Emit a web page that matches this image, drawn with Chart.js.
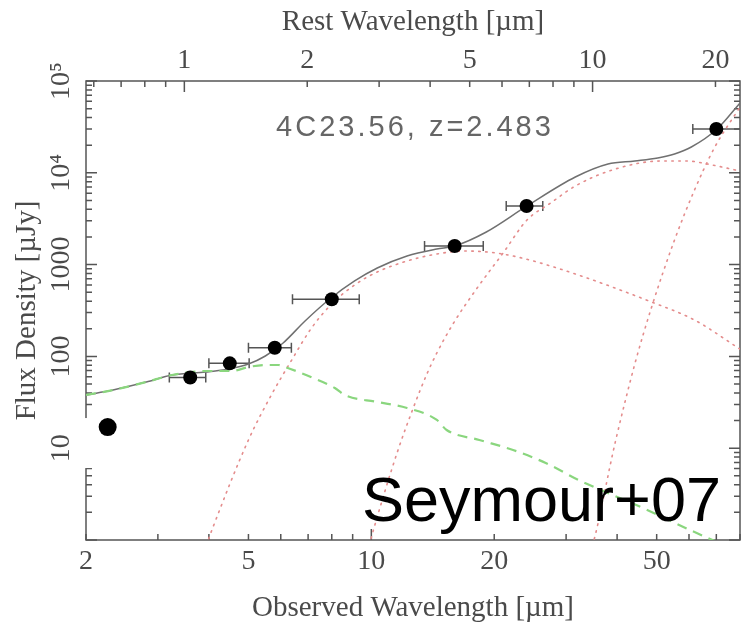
<!DOCTYPE html>
<html>
<head>
<meta charset="utf-8">
<script src="https://cdn.jsdelivr.net/npm/chart.js@4.4.0/dist/chart.umd.min.js"></script>
<style>
  html, body { margin: 0; padding: 0; background: #fff; }
  #sed { display: block; }
</style>
</head>
<body>
<canvas id="sed" width="749" height="627"></canvas>
<script>
const redshift = 2.483;

// photometry: observed wavelength [um], flux [uJy], wavelength range of the band
const photWl   = [3.6, 4.5, 5.8, 8.0, 16, 24, 70];
const photFlux = [59, 84, 124, 419, 1595, 4350, 30000];
const photWlLo = [3.2, 4.0, 5.0, 6.41, 13.5, 21.4, 61.3];
const photWlHi = [3.93, 5.02, 6.37, 9.34, 18.8, 26.3, 90];

// the extra K-band point
const extraWl   = [2.26];
const extraFlux = [17.0];

// total model (solid)
const totalWl   = [2.00, 2.33, 2.81, 3.25, 3.93, 4.47, 5.00, 5.50, 6.08, 6.88, 7.91, 9.10, 10.34, 12.23, 14.47, 15.99, 19.13, 24.06, 31.6, 38.0, 44.2, 50.3, 55.3, 60.8, 70.3, 80];
const totalFlux = [38.0, 43.0, 52.6, 62.7, 67.6, 72.9, 82.6, 101, 140, 243, 422, 663, 918, 1241, 1479, 1594, 2265, 4350, 9000, 12470, 13440, 14490, 16030, 19100, 30000, 57600];

// stellar template (green dashed)
const starWl   = [2.00, 2.33, 2.81, 3.25, 3.93, 4.55, 5.00, 5.50, 5.92, 6.15, 6.54, 7.11, 8.14, 8.60, 10.34, 12.23, 14.47, 15.29, 18.39, 22.24, 26.74, 32.2, 46.8, 61.9, 73.1];
const starFlux = [38.0, 43.0, 52.6, 62.7, 69.3, 69.3, 76.6, 80.6, 80.6, 76.6, 69.3, 59.6, 45.3, 38.0, 31.9, 27.4, 20.3, 15.8, 12.3, 9.56, 6.90, 4.50, 2.18, 1.22, 0.88];

// dust components (red dotted)
const hotWl   = [3.89, 4.07, 5.00, 5.69, 6.36, 7.11, 7.95, 9.10, 10.34, 12.23, 14.47, 17.1, 20.2, 23.9, 31.6, 48.6, 61.9, 80];
const hotFlux = [0.74, 1.29, 12.3, 38.0, 89.1, 199, 363, 600, 831, 1094, 1305, 1406, 1338, 1151, 790, 391, 249, 120];

const warmWl   = [9.78, 10.17, 11.56, 12.72, 13.68, 14.47, 15.90, 18.09, 21.03, 24.06, 27.5, 31.6, 39.6, 51.4, 59.5, 66.5, 80];
const warmFlux = [0.74, 1.39, 8.87, 28.8, 64.3, 109, 231, 542, 1338, 3060, 4690, 7180, 11000, 13440, 13440, 12470, 10460];

const coldWl   = [33.4, 34.8, 39.6, 44.2, 48.6, 55.3, 61.9, 69.2, 80];
const coldFlux = [0.53, 0.86, 11.7, 82.6, 345, 1854, 6495, 18630, 52100];

// axes
const obsTicks   = [2, 5, 10, 20, 50];
const restTicks  = [1, 2, 5, 10, 20];
const fluxTicks  = [10, 100, 1000, 10000, 100000];
const fluxLabels = ['10', '100', '1000', '10\u2074', '10\u2075'];

const obsMin = 2, obsMax = 80, fluxMin = 1, fluxMax = 1e5;

const textColor = '#4a4a4a';
const serif = '"Liberation Serif", "DejaVu Serif", serif';

const pts = (xs, ys) => xs.map((v, i) => ({ x: v, y: ys[i] }));

// tick values (1..9 x decade) inside a range, for a log axis
function logTicks(lo, hi) {
  const out = [];
  for (let d = Math.floor(Math.log10(lo)); d <= Math.ceil(Math.log10(hi)); d++) {
    for (let m = 1; m <= 9; m++) {
      const v = m * Math.pow(10, d);
      if (v >= lo * 0.999 && v <= hi * 1.001) out.push({ v: v, major: m === 1 });
    }
  }
  return out;
}

const frame = {
  id: 'frame',
  beforeDatasetsDraw(chart) {
    const { ctx, chartArea: { left, right, top, bottom }, scales: { x, x2, y } } = chart;
    ctx.save();
    ctx.strokeStyle = '#555';
    ctx.lineWidth = 1.5;
    ctx.strokeRect(left, top, right - left, bottom - top);
    ctx.beginPath();
    logTicks(obsMin, obsMax).forEach(t => {
      const px = x.getPixelForValue(t.v);
      const len = t.major ? 11 : 6;
      ctx.moveTo(px, bottom); ctx.lineTo(px, bottom - len);
    });
    logTicks(obsMin / (1 + redshift), obsMax / (1 + redshift)).forEach(t => {
      const px = x2.getPixelForValue(t.v);
      const len = t.major ? 11 : 6;
      ctx.moveTo(px, top); ctx.lineTo(px, top + len);
    });
    logTicks(fluxMin, fluxMax).forEach(t => {
      const py = y.getPixelForValue(t.v);
      const len = t.major ? 11 : 6;
      ctx.moveTo(left, py); ctx.lineTo(left + len, py);
      ctx.moveTo(right, py); ctx.lineTo(right - len, py);
    });
    ctx.stroke();

    // white box pasted under the extra point
    const ey = y.getPixelForValue(extraFlux[0]);
    ctx.fillStyle = '#fff';
    ctx.fillRect(40, ey - 9, 140, 50);

    // rotated y tick labels
    ctx.fillStyle = textColor;
    ctx.font = '28px ' + serif;
    ctx.textAlign = 'center';
    ctx.textBaseline = 'middle';
    fluxTicks.forEach((v, i) => {
      const py = y.getPixelForValue(v);
      ctx.save();
      ctx.translate(62, py);
      ctx.rotate(-Math.PI / 2);
      ctx.fillText(fluxLabels[i], 0, 0);
      ctx.restore();
    });
    ctx.restore();
  }
};

const errorBars = {
  id: 'errorBars',
  beforeDatasetsDraw(chart) {
    const { ctx, chartArea, scales: { x, y } } = chart;
    ctx.save();
    ctx.beginPath();
    ctx.rect(chartArea.left, chartArea.top, chartArea.width, chartArea.height);
    ctx.clip();
    ctx.strokeStyle = '#555';
    ctx.lineWidth = 1.5;
    ctx.beginPath();
    photWl.forEach((w, i) => {
      const py = y.getPixelForValue(photFlux[i]);
      const x0 = x.getPixelForValue(photWlLo[i]);
      const x1 = x.getPixelForValue(photWlHi[i]);
      ctx.moveTo(x0, py); ctx.lineTo(x1, py);
      ctx.moveTo(x0, py - 5); ctx.lineTo(x0, py + 5);
      ctx.moveTo(x1, py - 5); ctx.lineTo(x1, py + 5);
    });
    ctx.stroke();
    ctx.restore();
  }
};

const labels = {
  id: 'labels',
  afterDraw(chart) {
    const { ctx, chartArea: { left, right } } = chart;
    ctx.save();
    ctx.fillStyle = '#666';
    ctx.font = '29px "Liberation Sans", Arial, sans-serif';
    ctx.letterSpacing = '3px';
    ctx.textAlign = 'center';
    ctx.textBaseline = 'alphabetic';
    ctx.fillText('4C23.56, z=2.483', (left + right) / 2 + 2, 136);
    ctx.letterSpacing = '0px';
    ctx.fillStyle = '#000';
    ctx.font = '63px "Liberation Sans", Arial, sans-serif';
    ctx.textAlign = 'left';
    ctx.fillText('Seymour+07', 362, 521);
    ctx.restore();
  }
};

const dotted = { borderColor: '#e48c8c', borderWidth: 1.6, borderDash: [1.5, 5.5], borderCapStyle: 'round' };

new Chart(document.getElementById('sed'), {
  type: 'scatter',
  data: {
    datasets: [
      { data: pts(photWl, photFlux), pointRadius: 7, pointBackgroundColor: '#000', pointBorderWidth: 0, order: 0 },
      { data: pts(extraWl, extraFlux), pointRadius: 9, pointBackgroundColor: '#000', pointBorderWidth: 0, order: 0, clip: false },
      { data: pts(starWl, starFlux), showLine: true, pointRadius: 0, borderColor: '#8ad67e', borderWidth: 2.2, borderDash: [10, 7], cubicInterpolationMode: 'monotone', order: 1 },
      { data: pts(totalWl, totalFlux), showLine: true, pointRadius: 0, borderColor: '#707070', borderWidth: 1.5, cubicInterpolationMode: 'monotone', order: 2 },
      Object.assign({ data: pts(hotWl, hotFlux), showLine: true, pointRadius: 0, cubicInterpolationMode: 'monotone', order: 3 }, dotted),
      Object.assign({ data: pts(warmWl, warmFlux), showLine: true, pointRadius: 0, cubicInterpolationMode: 'monotone', order: 3 }, dotted),
      Object.assign({ data: pts(coldWl, coldFlux), showLine: true, pointRadius: 0, cubicInterpolationMode: 'monotone', order: 3 }, dotted)
    ]
  },
  options: {
    responsive: false,
    animation: false,
    layout: { padding: { right: 3 } },
    plugins: { legend: { display: false }, tooltip: { enabled: false } },
    scales: {
      x: {
        type: 'logarithmic', position: 'bottom', min: obsMin, max: obsMax,
        grid: { display: false, drawTicks: false }, border: { display: false },
        afterBuildTicks: s => { s.ticks = obsTicks.map(v => ({ value: v })); },
        ticks: { callback: v => String(v), color: textColor, font: { family: serif, size: 28 }, padding: 5, maxRotation: 0, autoSkip: false },
        title: { display: true, text: 'Observed Wavelength [\u00b5m]', color: textColor, font: { family: serif, size: 29 }, padding: { top: 0, bottom: 1 } },
        afterFit: s => { s.height = 87; }
      },
      x2: {
        type: 'logarithmic', position: 'top', min: obsMin / (1 + redshift), max: obsMax / (1 + redshift),
        grid: { display: false, drawTicks: false }, border: { display: false },
        afterBuildTicks: s => { s.ticks = restTicks.map(v => ({ value: v })); },
        ticks: { callback: v => String(v), color: textColor, font: { family: serif, size: 28 }, padding: 4, maxRotation: 0, autoSkip: false },
        title: { display: true, text: 'Rest Wavelength [\u00b5m]', color: textColor, font: { family: serif, size: 29 }, padding: { top: 5, bottom: 0 } },
        afterFit: s => { s.height = 81; }
      },
      y: {
        type: 'logarithmic', min: fluxMin, max: fluxMax,
        grid: { display: false, drawTicks: false }, border: { display: false },
        ticks: { display: false },
        title: { display: true, text: 'Flux Density [\u00b5Jy]', color: textColor, font: { family: serif, size: 29 }, padding: { top: 10, bottom: 0 } },
        afterFit: s => { s.width = 86; }
      }
    }
  },
  plugins: [frame, errorBars, labels]
});
</script>
</body>
</html>
